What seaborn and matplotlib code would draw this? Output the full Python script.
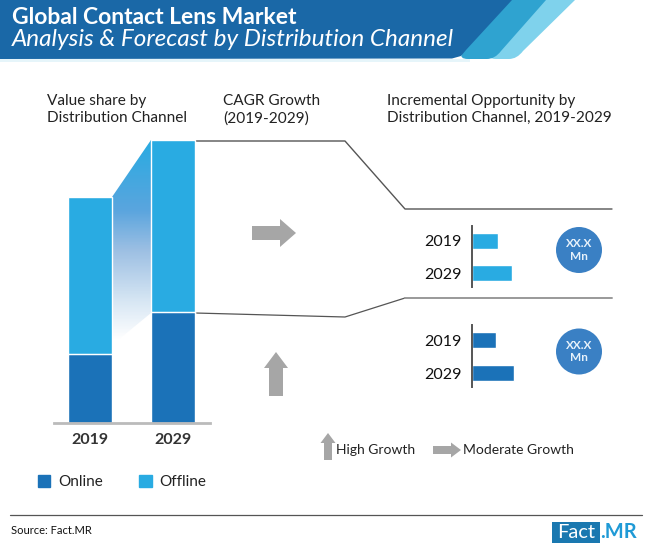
import numpy as np
import seaborn as sns
import matplotlib.pyplot as plt
from matplotlib.colors import LinearSegmentedColormap
from matplotlib.patches import Polygon, Circle, Rectangle, FancyArrow, Patch, PathPatch
from matplotlib.path import Path

sns.set_theme(style='white')
plt.rcParams['font.family'] = ['Lato', 'DejaVu Sans']

years = ['2019', '2029']
online_share = [69, 111]
offline_share = [157, 172]
offline_opportunity = [26, 40]
online_opportunity = [24, 42]
bubble_text = 'XX.X\nMn'

dark_blue = '#1b72b8'
light_blue = '#29abe2'
grey = '#a6a6a6'
W, H = 650, 553


def px_axes(x0, y0, x1, y1):
    # axes placed by picture pixels (y counted from the top)
    ax = fig.add_axes([x0/W, 1-y1/H, (x1-x0)/W, (y1-y0)/H])
    ax.patch.set_alpha(0)
    return ax


def stripe(tl, tr, bl, br, bottom, color, z):
    # slanted header stripe with a rounded lower end
    verts = [(tl, 0), (tr, 0), (br+6, bottom-8), (br, bottom), (br-8, bottom),
             (bl+6, bottom), (bl-3, bottom), (bl, bottom-6), (tl, 0)]
    codes = [Path.MOVETO, Path.LINETO, Path.LINETO, Path.CURVE3, Path.CURVE3,
             Path.LINETO, Path.CURVE3, Path.CURVE3, Path.CLOSEPOLY]
    bg.add_patch(PathPatch(Path(verts, codes), fc=color, ec='none', zorder=z))


fig = plt.figure(figsize=(W/100, H/100), dpi=100)
bg = fig.add_axes([0, 0, 1, 1])
bg.axis('off')

# gradient between the two bars
fade = LinearSegmentedColormap.from_list('fade', [(0, light_blue), (0.35, '#5aa5de'), (0.55, '#9cbfe3'),
                                                  (0.8, '#d5e5f3'), (1, '#ffffff')])
grad = np.linspace(0, 1, 200)[:, None]
im = bg.imshow(grad, cmap=fade, extent=(112, 151, 340, 140), aspect='auto', zorder=1)
im.set_clip_path(Polygon([(112, 197), (151, 140), (151, 313), (112, 345)], transform=bg.transData))
bg.set_xlim(0, W)
bg.set_ylim(H, 0)

# header band
bg.add_patch(Rectangle((0, 59), 470, 3, fc='#e6f5fa', ec='none', zorder=0))
band = [(0, 0), (512, 0), (466, 50), (461, 56), (452, 58.5), (0, 59)]
bg.add_patch(Polygon(band, fc='#1a68a7', ec='none', zorder=3))
stripe(500, 546, 462, 495, 59, '#2fa3d0', 2)
stripe(530, 575, 490, 517, 59, '#7fd2ec', 1)
bg.text(12, 17, 'Global Contact Lens Market', color='white', fontsize=16.5, fontweight='bold', va='center', zorder=4)
bg.text(12, 40, 'Analysis & Forecast by Distribution Channel', color='white', fontsize=17.5, style='italic', va='center', zorder=4)

# column headings
for x, label in [(47, 'Value share by\nDistribution Channel'), (223, 'CAGR Growth\n(2019-2029)'),
                 (387, 'Incremental Opportunity by\nDistribution Channel, 2019-2029')]:
    bg.text(x, 109.5, label, fontsize=11.1, color='#222222', va='center', linespacing=1.32)

# connector lines
bg.plot([195, 345, 405, 612], [141, 141, 209, 209], color='#555555', lw=1, zorder=2)
bg.plot([195, 345, 405], [313, 317, 298], color='#555555', lw=0.9, zorder=2)
bg.plot([405, 612], [298, 298], color='#999999', lw=1.4, zorder=2)

# growth arrows
arrow = dict(length_includes_head=True, fc=grey, ec='none', zorder=2)
bg.add_patch(FancyArrow(252, 233, 44, 0, width=14, head_width=28, head_length=16, **arrow))
bg.add_patch(FancyArrow(276, 396, 0, -44, width=14, head_width=24, head_length=16, **arrow))
bg.add_patch(FancyArrow(328, 460, 0, -27, width=8, head_width=15, head_length=10, **arrow))
bg.add_patch(FancyArrow(433, 450, 28, 0, width=8, head_width=15, head_length=10, **arrow))
bg.text(336, 450.5, 'High Growth', fontsize=10, color='#222222', va='center')
bg.text(463, 450.5, 'Moderate Growth', fontsize=10, color='#222222', va='center')

# bubbles
for cy in [250, 351.5]:
    bg.add_patch(Circle((579, cy), 23, fc='#3a80c4', ec='none', zorder=2))
    bg.text(579, cy, bubble_text, color='#e8f2fb', fontsize=8.5, fontweight='bold', ha='center', va='center', zorder=3)

# footer
bg.plot([10, 642], [515, 515], color='#555555', lw=0.9)
bg.text(11, 530, 'Source: Fact.MR', fontsize=8, color='#111111', va='center')
bg.add_patch(Rectangle((552, 522), 48, 21, fc='#1a78b0', ec='none'))
bg.text(576, 532.5, 'Fact', color='white', fontsize=14.5, ha='center', va='center')
bg.text(600, 532.5, '.MR', color='#1f9ad6', fontsize=14.5, fontweight='bold', ha='left', va='center')

# main stacked bars
ax = px_axes(54, 130, 210, 423)
totals = [a+b for a, b in zip(online_share, offline_share)]
sns.barplot(x=years, y=totals, color=light_blue, saturation=1, width=0.53, ax=ax)
sns.barplot(x=years, y=online_share, color=dark_blue, saturation=1, width=0.53, ax=ax)
for bar in ax.patches[len(years):]:
    # thin white seam where the two segments meet
    ax.plot([bar.get_x(), bar.get_x()+bar.get_width()], [bar.get_height()]*2, color='white', lw=0.8)
ax.set_xlim(-35.7/83, 1+37.3/83)
ax.set_ylim(0, 293)
ax.set_yticks([])
ax.tick_params(axis='x', length=0, pad=7)
for t in ax.get_xticklabels():
    t.set_fontsize(11.5)
    t.set_fontweight('bold')
    t.set_color('#333333')
sns.despine(ax=ax, left=True)
ax.spines['bottom'].set_color('#bbbbbb')
ax.spines['bottom'].set_linewidth(2)
handles = [Patch(color=dark_blue, label='Online'), Patch(color=light_blue, label='Offline')]
ax.legend(handles=handles, loc='upper left', bbox_to_anchor=(-0.19, -0.13), ncol=2, frameon=False, fontsize=11,
          handlelength=0.8, handleheight=0.8, handletextpad=0.5, columnspacing=2.4, labelcolor='#222222')

# small opportunity bars
for (top, bottom), vals, col in [((226, 287), offline_opportunity, light_blue), ((325, 387), online_opportunity, dark_blue)]:
    a = px_axes(472, top, 530, bottom)
    sns.barplot(x=vals, y=years, orient='h', color=col, saturation=1, width=0.49, ax=a)
    a.set_xlim(0, 58)
    a.set_ylim(1.42, -0.46)
    a.set_xticks([])
    a.set_xlabel('')
    a.tick_params(axis='y', length=0, pad=7.5, labelsize=11.5, labelcolor='#111111')
    sns.despine(ax=a, bottom=True)
    a.spines['left'].set_color('#555555')
    a.spines['left'].set_linewidth(1.4)

fig.savefig('out.png', dpi=100)
